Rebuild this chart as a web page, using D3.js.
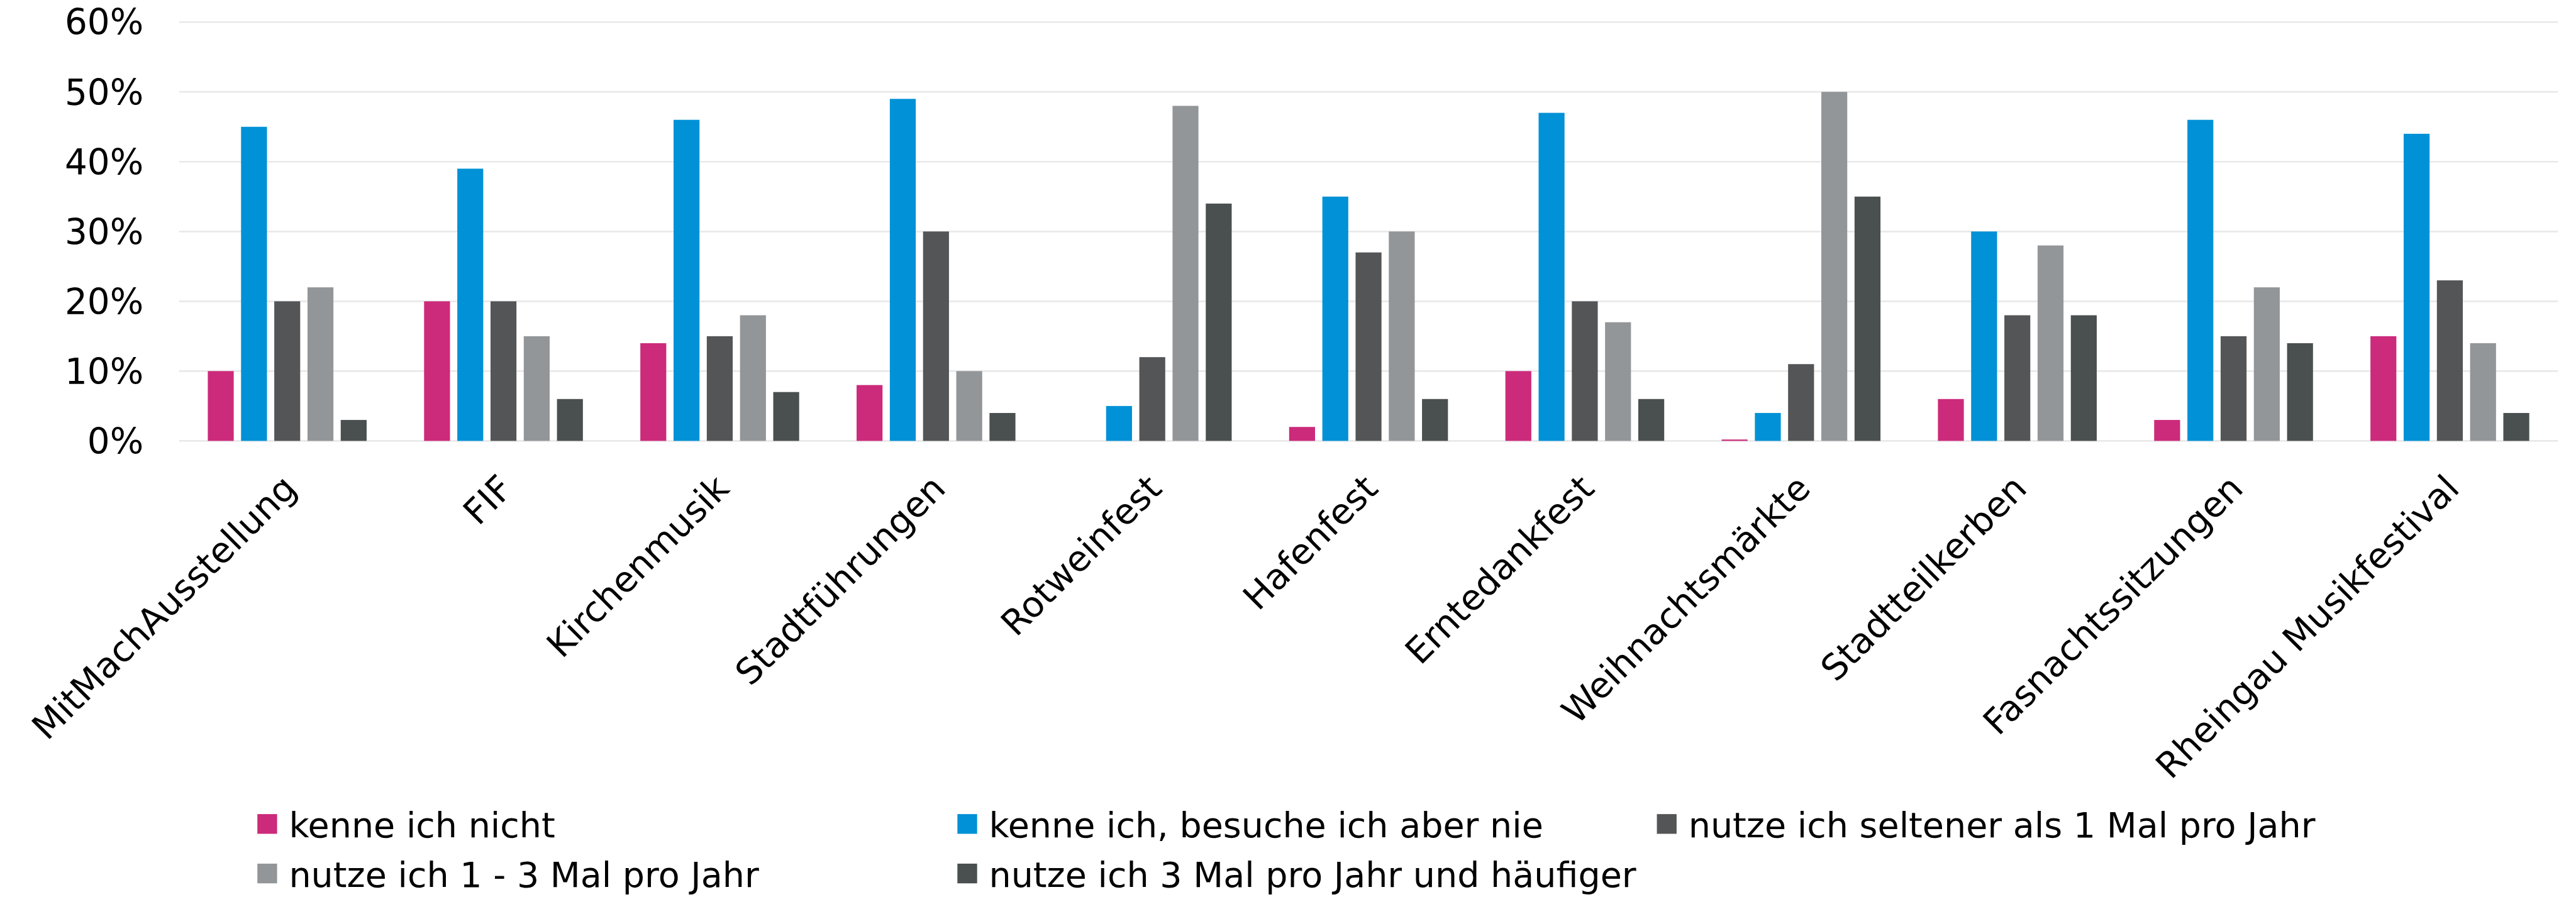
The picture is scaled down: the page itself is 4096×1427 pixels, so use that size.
<!DOCTYPE html>
<html>
<head>
<meta charset="utf-8">
<script src="https://cdn.jsdelivr.net/npm/d3@7"></script>
<style>
  html, body { margin: 0; padding: 0; background: #fff; }
  svg { display: block; }
  text { font-family: 'DejaVu Sans', sans-serif; fill: #000; }
</style>
</head>
<body>
<div id="chart"></div>
<script>
// categories (x axis)
const categories = ['MitMachAusstellung', 'FIF', 'Kirchenmusik', 'Stadtführungen', 'Rotweinfest',
  'Hafenfest', 'Erntedankfest', 'Weihnachtsmärkte', 'Stadtteilkerben', 'Fasnachtssitzungen',
  'Rheingau Musikfestival']

// series names (legend order)
const seriesNames = ['kenne ich nicht', 'kenne ich, besuche ich aber nie',
  'nutze ich seltener als 1 Mal pro Jahr', 'nutze ich 1 - 3 Mal pro Jahr',
  'nutze ich 3 Mal pro Jahr und häufiger']

// values in percent
const kenneNicht = [10, 20, 14, 8, 0, 2, 10, 0.2, 6, 3, 15]
const kenneNie = [45, 39, 46, 49, 5, 35, 47, 4, 30, 46, 44]
const seltener = [20, 20, 15, 30, 12, 27, 20, 11, 18, 15, 23]
const einsBisDrei = [22, 15, 18, 10, 48, 30, 17, 50, 28, 22, 14]
const dreiMal = [3, 6, 7, 4, 34, 6, 6, 35, 18, 14, 4]

const yTicks = [0, 10, 20, 30, 40, 50, 60]

const seriesValues = [kenneNicht, kenneNie, seltener, einsBisDrei, dreiMal]
const colors = ['#cc2a7b', '#0091d6', '#545557', '#939699', '#4a4f4f']

// reference-sized layout, scaled down by viewBox
const W = 4574, H = 1593
const plot = { left: 318, right: 4542, top: 39, bottom: 783 }

const svg = d3.select('#chart').append('svg')
  .attr('width', 4096)
  .attr('height', 1427)
  .attr('viewBox', `0 0 ${W} ${H}`)

const x0 = d3.scaleBand()
  .domain(categories)
  .range([plot.left, plot.right])
  .paddingInner(0.2656)
  .paddingOuter(0.1328)

const x1 = d3.scaleBand()
  .domain(seriesNames)
  .range([0, x0.bandwidth()])
  .paddingInner(0.22)

const y = d3.scaleLinear()
  .domain([0, 60])
  .range([plot.bottom, plot.top])

// gridlines
svg.append('g')
  .selectAll('line')
  .data(yTicks)
  .enter().append('line')
  .attr('x1', plot.left)
  .attr('x2', plot.right)
  .attr('y1', d => y(d))
  .attr('y2', d => y(d))
  .style('stroke', '#e9e9e9')
  .style('stroke-width', 3)

// y axis labels
svg.append('g')
  .selectAll('text')
  .data(yTicks)
  .enter().append('text')
  .attr('x', 255)
  .attr('y', d => y(d))
  .attr('dy', '0.36em')
  .attr('text-anchor', 'end')
  .style('font-size', '63px')
  .text(d => d + '%')

// bars
const rows = categories.map((c, i) => ({ cat: c, vals: seriesValues.map(s => s[i]) }))

const groups = svg.append('g')
  .selectAll('g')
  .data(rows)
  .enter().append('g')
  .attr('transform', d => `translate(${x0(d.cat)},0)`)

groups.selectAll('rect')
  .data(d => d.vals.map((v, k) => ({ name: seriesNames[k], value: v, k })))
  .enter().append('rect')
  .attr('x', d => x1(d.name))
  .attr('width', x1.bandwidth())
  .attr('y', d => y(d.value))
  .attr('height', d => y(0) - y(d.value))
  .style('fill', d => colors[d.k])

// category labels, rotated
svg.append('g')
  .selectAll('text')
  .data(categories)
  .enter().append('text')
  .attr('transform', d => `translate(${x0(d) + x0.bandwidth() / 2 + 4},${plot.bottom + 72}) rotate(-45)`)
  .attr('dy', '0.36em')
  .attr('text-anchor', 'end')
  .style('font-size', '63px')
  .text(d => d)

// legend
const legendCols = [457, 1700, 2942]
const legendRows = [1446, 1534]

const legend = svg.append('g')
  .selectAll('g')
  .data(seriesNames)
  .enter().append('g')
  .attr('transform', (d, i) => `translate(${legendCols[i % 3]},${legendRows[Math.floor(i / 3)]})`)

legend.append('rect')
  .attr('width', 35)
  .attr('height', 35)
  .style('fill', (d, i) => colors[i])

legend.append('text')
  .attr('x', 56)
  .attr('y', 41)
  .style('font-size', '62px')
  .text(d => d)
</script>
</body>
</html>
